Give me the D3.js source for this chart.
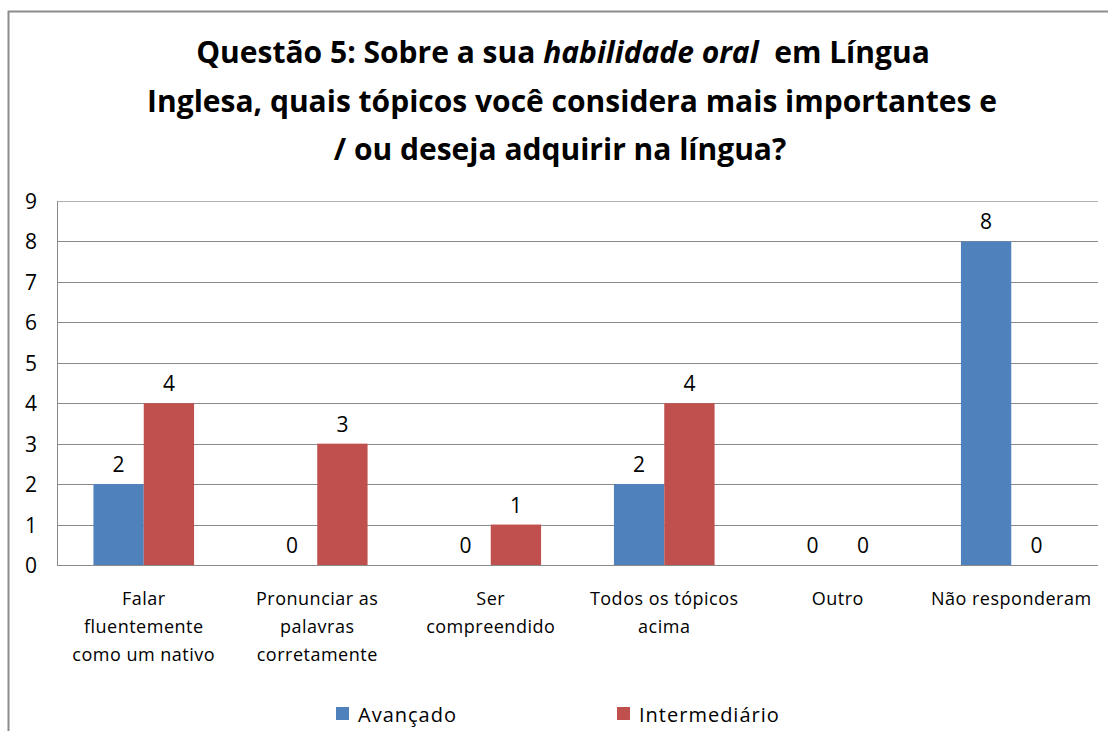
<!DOCTYPE html>
<html>
<head>
<meta charset="utf-8">
<script src="https://cdn.jsdelivr.net/npm/d3@7"></script>
<style>
  body { margin: 0; background: #fff; }
  text { font-family: "Liberation Sans Narrow", "Open Sans", sans-serif; fill: #000; }
  .title { font-weight: bold; font-size: 30px; }
</style>
</head>
<body>
<svg width="1108" height="731"></svg>
<script>
// data
const categories = [
  ["Falar", "fluentemente", "como um nativo"],
  ["Pronunciar as", "palavras", "corretamente"],
  ["Ser", "compreendido"],
  ["Todos os tópicos", "acima"],
  ["Outro"],
  ["Não responderam"]
]
const series = ["Avançado", "Intermediário"]
const avancado = [2, 0, 0, 2, 0, 8]
const intermediario = [4, 3, 1, 4, 0, 0]
const yTicks = [0, 1, 2, 3, 4, 5, 6, 7, 8, 9]
const colors = ["#4F81BD", "#C0504D"]

const svg = d3.select("svg")
const plot = { left: 57, right: 1098, top: 201, bottom: 565 }

// outer border
svg.append("path")
  .attr("d", "M8.5,731 V11.5 H1108")
  .attr("fill", "none")
  .attr("stroke", "#8c8c8c")
  .attr("stroke-width", 2)

// title
const title = svg.append("text").attr("class", "title").attr("text-anchor", "middle")
const line1 = title.append("tspan").attr("x", 563).attr("y", 63)
line1.append("tspan").text("Questão 5: Sobre a sua ")
line1.append("tspan").attr("font-style", "italic").text("habilidade oral")
line1.append("tspan").text("\u00a0 em Língua")
title.append("tspan").attr("x", 572).attr("y", 112).text("Inglesa, quais tópicos você considera mais importantes e")
title.append("tspan").attr("x", 560).attr("y", 160).text("/ ou deseja adquirir na língua?")

const x = d3.scaleBand().domain(d3.range(categories.length)).range([plot.left, plot.right])
const y = d3.scaleLinear().domain([0, 9]).range([plot.bottom, plot.top])
const barW = x.bandwidth() * 0.29

// gridlines
svg.append("g").selectAll("line").data(yTicks).enter().append("line")
  .attr("x1", plot.left).attr("x2", plot.right)
  .attr("y1", d => Math.round(y(d)) + 0.5).attr("y2", d => Math.round(y(d)) + 0.5)
  .attr("stroke", d => d == 9 ? "#b0b0b0" : "#8a8a8a").attr("stroke-width", 1)

// left axis line
svg.append("line")
  .attr("x1", plot.left + 0.5).attr("x2", plot.left + 0.5)
  .attr("y1", plot.top).attr("y2", plot.bottom)
  .attr("stroke", "#8a8a8a")

// y labels
svg.append("g").selectAll("text").data(yTicks).enter().append("text")
  .attr("x", 37).attr("y", d => y(d) + 8)
  .attr("text-anchor", "end")
  .style("font-size", "21px")
  .text(d => d)

// bars
const allSeries = [avancado, intermediario]
allSeries.forEach((vals, s) => {
  const g = svg.append("g")
  g.selectAll("rect").data(vals).enter().append("rect")
    .attr("x", (d, i) => x(i) + x.bandwidth() / 2 - barW + s * barW)
    .attr("y", d => y(d))
    .attr("width", barW)
    .attr("height", d => y(0) - y(d))
    .attr("fill", colors[s])
  g.selectAll("text").data(vals).enter().append("text")
    .attr("x", (d, i) => x(i) + x.bandwidth() / 2 - barW / 2 + s * barW)
    .attr("y", d => y(d) - 12)
    .attr("text-anchor", "middle")
    .style("font-size", "21px")
    .text(d => d)
})

// category labels
const cat = svg.append("g").selectAll("text").data(categories).enter().append("text")
  .attr("text-anchor", "middle")
  .style("font-size", "18px")
  .style("letter-spacing", "0.5px")
cat.selectAll("tspan").data((d, i) => d.map(l => ({ l, i }))).enter().append("tspan")
  .attr("x", d => x(d.i) + x.bandwidth() / 2)
  .attr("y", (d, j) => 605 + j * 28)
  .text(d => d.l)

// legend
const legX = [336, 617]
series.forEach((name, s) => {
  svg.append("rect").attr("x", legX[s]).attr("y", 707).attr("width", 13).attr("height", 13).attr("fill", colors[s])
  svg.append("text").attr("x", legX[s] + 22).attr("y", 722)
    .style("font-size", "20px").style("letter-spacing", "1px").text(name)
})
</script>
</body>
</html>
